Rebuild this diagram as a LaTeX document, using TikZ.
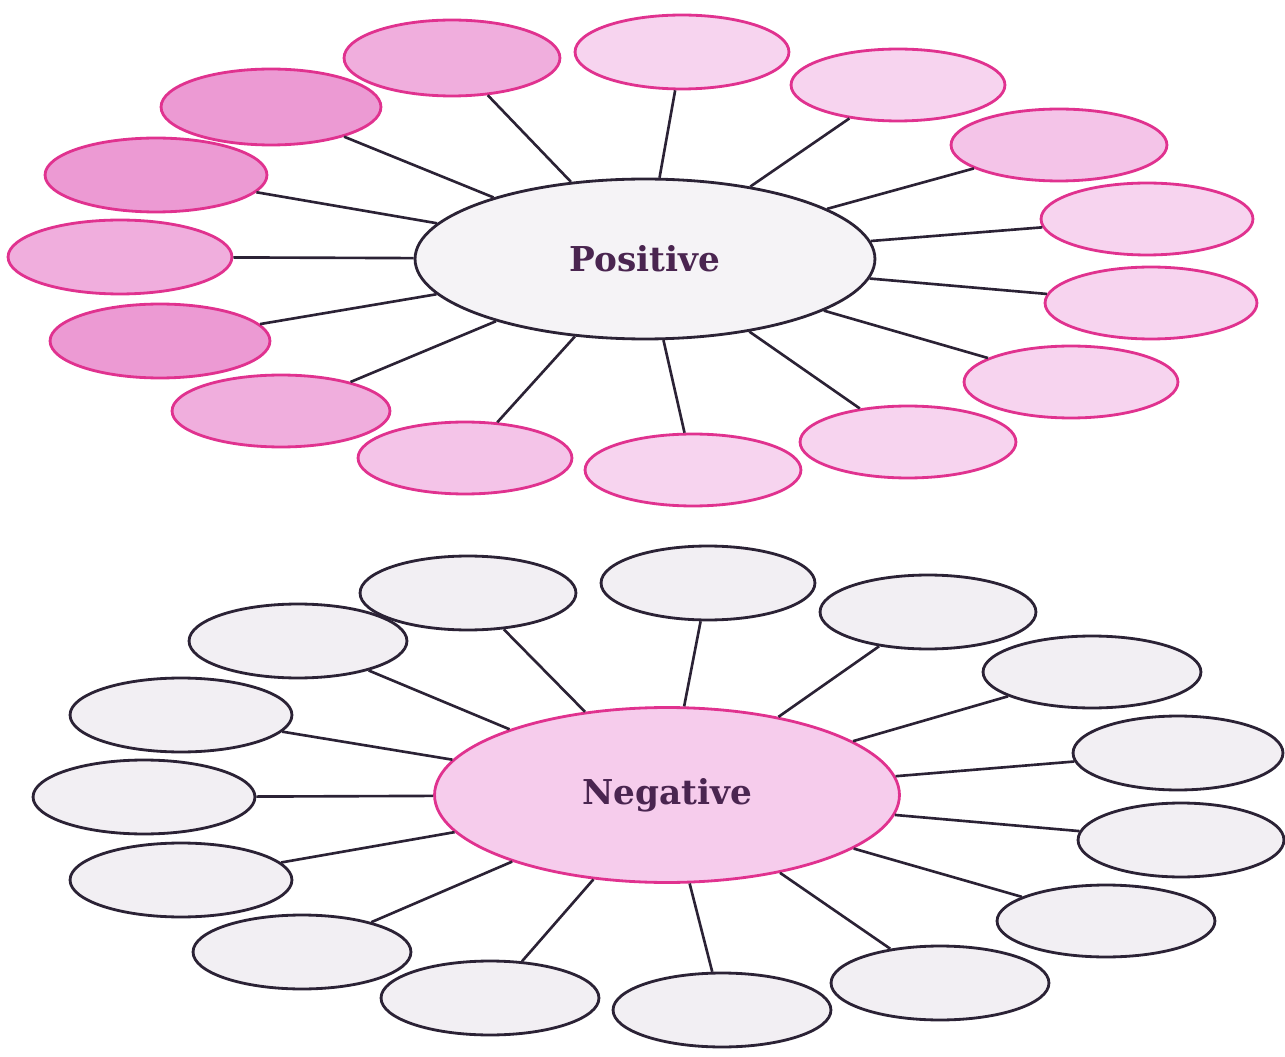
\documentclass[tikz,border=0pt]{standalone}
\usepackage{fontspec}
\newfontfamily\labfont{DejaVu Serif}
\usetikzlibrary{shapes.geometric}
\definecolor{pinkline}{HTML}{E0328F}
\definecolor{darkline}{HTML}{2B2235}
\definecolor{pkA}{HTML}{EC9AD3}
\definecolor{pkB}{HTML}{F0AEDD}
\definecolor{pkC}{HTML}{F4C4E8}
\definecolor{pkD}{HTML}{F7D4EF}
\definecolor{grayfill}{HTML}{F2EFF3}
\definecolor{centerfill}{HTML}{F5F3F6}
\definecolor{negfill}{HTML}{F6CCEC}
\definecolor{txt}{HTML}{4A2550}
\tikzset{
  oval/.style={ellipse, inner sep=0pt, line width=1.6pt},
  pinkoval/.style={oval, draw=pinkline},
  grayoval/.style={oval, draw=darkline, fill=grayfill},
  conn/.style={draw=darkline, line width=1.5pt},
  centertext/.style={font=\labfont\bfseries\fontsize{19.5}{23}\selectfont, text=txt}
}
\begin{document}
\begin{tikzpicture}[x=0.02cm, y=-0.02cm]
\useasboundingbox (0,0) rectangle (1285,1057);
% ---------- Positive ----------
\node[oval, draw=darkline, fill=centerfill, minimum width=9.2cm, minimum height=3.2cm] (P) at (645,259) {};
\foreach \n/\x/\y/\a/\b/\c in {
  1/452/58/108/38/pkB,
  2/682/52/107/37/pkD,
  3/898/85/107/36/pkD,
  4/1059/145/108/36/pkC,
  5/1147/219/106/36/pkD,
  6/1151/303/106/36/pkD,
  7/1071/382/107/36/pkD,
  8/908/442/108/36/pkD,
  9/693/470/108/36/pkD,
  10/465/458/107/36/pkC,
  11/281/411/109/36/pkB,
  12/160/341/110/37/pkA,
  13/120/257/112/37/pkB,
  14/156/175/111/37/pkA,
  15/271/107/110/38/pkA}{
  \node[pinkoval, fill=\c, minimum width={0.04cm*\a}, minimum height={0.04cm*\b}] (p\n) at (\x,\y) {};
}
\foreach \n in {1,...,15}{
  \draw[conn] (P) -- (p\n);
}
\node[centertext] (Ptext) at (P) {Positive};
% ---------- Negative ----------
\node[oval, draw=pinkline, fill=negfill, minimum width=9.3cm, minimum height=3.5cm] (N) at (667,795) {};
\foreach \n/\x/\y/\a/\b in {
  1/468/593/108/37,
  2/708/583/107/37,
  3/928/612/108/37,
  4/1092/672/109/36,
  5/1178/753/105/37,
  6/1181/840/103/37,
  7/1106/921/109/36,
  8/940/983/109/37,
  9/722/1010/109/37,
  10/490/998/109/37,
  11/302/952/109/37,
  12/181/880/111/37,
  13/144/797/111/37,
  14/181/715/111/37,
  15/298/641/109/37}{
  \node[grayoval, minimum width={0.04cm*\a}, minimum height={0.04cm*\b}] (n\n) at (\x,\y) {};
}
\foreach \n in {1,...,15}{
  \draw[conn] (N) -- (n\n);
}
\node[centertext] (Ntext) at (N) {Negative};
\end{tikzpicture}
\end{document}
